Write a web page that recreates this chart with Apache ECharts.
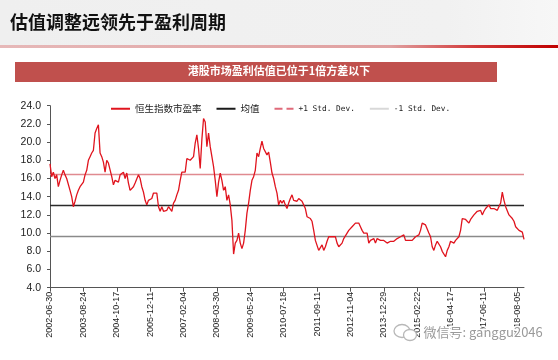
<!DOCTYPE html>
<html><head><meta charset="utf-8">
<script src="https://cdn.jsdelivr.net/npm/echarts@6/dist/echarts.min.js"></script>
<style>html,body{margin:0;padding:0;background:#fff;}#c{width:558px;height:360px;}</style>
</head><body><div id="c"></div>
<script>
// Weekly HSI P/E sampled every 3 weeks, starting 2002-06-30
const startDate = '2002-06-30';
const stepDays = 21;
const peValues = [
17.6,16.2,16.7,16.0,16.4,15.1,15.8,16.4,16.9,16.4,16.0,15.8,14.7,14.0,12.9,13.5,14.2,14.7,15.1,15.3,
15.6,16.4,16.9,18.0,18.4,18.8,19.1,21.0,21.5,21.9,18.8,18.4,17.8,16.7,18.0,17.7,17.8,16.2,15.3,15.8,
15.6,15.6,16.4,16.6,16.7,16.0,16.6,15.5,14.7,14.9,15.1,15.5,15.3,16.4,16.0,15.1,14.5,13.6,13.1,13.6,
13.6,13.8,14.4,14.2,14.4,12.9,12.4,12.9,12.4,12.2,12.5,12.9,12.7,12.4,13.3,13.6,14.2,14.7,15.8,16.7,
16.9,16.7,18.2,18.2,18.0,18.0,18.4,19.9,20.8,19.3,17.1,20.3,22.6,22.2,19.5,21.0,19.5,18.4,17.3,15.8,
14.0,15.6,16.6,15.8,14.7,15.1,13.6,14.2,13.1,11.4,7.7,8.9,9.2,10.0,8.9,8.3,8.9,10.3,12.2,13.3,
14.7,15.8,16.2,16.9,18.8,18.4,19.3,20.1,19.3,19.1,18.6,18.9,17.8,
16.6,16.0,15.1,14.4,13.1,13.6,13.3,13.6,13.1,12.7,13.3,13.8,14.2,13.6,13.5,13.5,13.8,13.6,13.5,13.1,
12.7,11.8,11.6,11.6,11.3,10.3,9.2,9.1,8.1,8.3,8.7,8.1,8.5,9.1,9.6,9.8,9.6,9.8,9.6,8.9,
8.5,8.7,8.9,9.4,9.6,10.0,10.3,10.1,10.7,10.9,11.1,11.3,11.1,10.7,10.3,10.0,9.8,10.0,8.9,9.2,
9.1,9.4,8.9,9.4,9.6,9.2,9.4,9.2,9.1,8.9,8.7,9.1,8.9,9.1,9.2,9.4,9.4,9.6,9.6,9.8,
9.2,9.1,9.2,9.1,9.2,9.4,9.6,9.6,9.8,10.3,11.1,11.1,10.9,10.7,10.0,9.6,8.5,8.1,8.7,9.1,
8.9,8.5,8.0,7.8,7.4,8.1,8.5,9.1,9.2,8.9,9.2,9.1,9.6,10.3,11.6,11.6,11.5,11.3,11.1,11.5,
11.6,12.0,12.2,12.4,12.2,12.5,12.0,12.4,12.7,12.9,13.1,12.7,12.9,12.7,12.9,12.5,12.4,13.3,14.5,13.6,
12.9,13.1,12.0,11.8,11.6,11.3,10.7,10.5,10.3,10.1,10.1,9.3
];
const meanPE = 13.05;
const plusStd = 16.5;
const minusStd = 9.6;
const seriesNames = ['恒生指数市盈率','均值','+1 Std. Dev.','-1 Std. Dev.'];

function fmt(d){
  const y=d.getUTCFullYear(), m=('0'+(d.getUTCMonth()+1)).slice(-2), dd=('0'+d.getUTCDate()).slice(-2);
  return y+'-'+m+'-'+dd;
}
const categories = [];
const t0 = Date.parse(startDate+'T00:00:00Z');
for (let i=0;i<peValues.length;i++){ categories.push(fmt(new Date(t0 + i*stepDays*86400000))); }

const chart = echarts.init(document.getElementById('c'), null, {renderer:'canvas'});
const cjk = '"Noto Sans CJK SC", "Liberation Sans", sans-serif';
const mono = '"DejaVu Sans Mono", monospace';
function refLine(name, value, legendColor, legendType, lineColor){
  return {
    name: name, type:'line', data: [], symbol:'none',
    lineStyle:{color:legendColor, type:legendType, width:1.5},
    itemStyle:{color:legendColor},
    markLine:{silent:true, symbol:'none', label:{show:false},
      lineStyle:{color:lineColor, type:'solid', width:1.3},
      data:[{yAxis:value}]}
  };
}
chart.setOption({
  animation:false,
  backgroundColor:'#ffffff',
  graphic:[
    {type:'rect', left:0, top:0, shape:{width:558, height:45},
      style:{fill:new echarts.graphic.LinearGradient(0,0,1,0,[{offset:0,color:'#efefef'},{offset:0.8,color:'#f1f1f1'},{offset:1,color:'#f7f7f7'}])}, z:-1},
    {type:'rect', left:0, top:45, shape:{width:558, height:3},
      style:{fill:new echarts.graphic.LinearGradient(0,0,1,0,[{offset:0,color:'#e6b8b8'},{offset:0.7,color:'#e0a0a0'},{offset:0.85,color:'#d23a3a'},{offset:1,color:'#c00000'}])}},
    {type:'text', left:10, top:13, style:{text:'估值调整远领先于盈利周期', font:'bold 18px '+cjk, fill:'#111'}},
    {type:'rect', left:15, top:62, shape:{width:482, height:20}, style:{fill:'#c0504d'}},
    {type:'text', left:'center', top:65, style:{text:'港股市场盈利估值已位于1倍方差以下', font:'bold 11px '+cjk, fill:'#ffffff'}},
    {type:'ellipse', z:100, shape:{cx:402, cy:331, rx:8, ry:6.5}, style:{fill:'#fff', stroke:'#b8b8b8', lineWidth:1.3}},
    {type:'ellipse', z:101, shape:{cx:410, cy:335, rx:6.5, ry:5.5}, style:{fill:'#fff', stroke:'#b8b8b8', lineWidth:1.3}},
    {type:'text', z:102, left:422, top:324, style:{text:'微信号: ganggu2046', font:'13px '+cjk, fill:'#9a9a9a', stroke:'#ffffff', lineWidth:3}}
  ],
  legend:{
    top:99, left:105, itemWidth:19, itemHeight:10, itemGap:14,
    itemStyle:{opacity:0},
    textStyle:{fontSize:9.5, color:'#222', fontFamily:cjk},
    data:[
      {name:seriesNames[0]},
      {name:seriesNames[1]},
      {name:seriesNames[2], textStyle:{fontFamily:mono, fontSize:7.8}},
      {name:seriesNames[3], textStyle:{fontFamily:mono, fontSize:7.8}}
    ]
  },
  grid:{left:50, right:34, top:105.7, bottom:72.3, containLabel:false},
  xAxis:{
    type:'category', data:categories, boundaryGap:false,
    axisLine:{lineStyle:{color:'#555', width:1}},
    axisTick:{interval:19, length:4, lineStyle:{color:'#555'}},
    axisLabel:{interval:19, rotate:90, fontSize:9, color:'#222', margin:4, fontFamily:'"Liberation Sans", Arial, sans-serif'},
    splitLine:{show:false}
  },
  yAxis:{
    type:'value', min:4, max:24, interval:2,
    axisLine:{show:true, lineStyle:{color:'#555', width:1}},
    axisTick:{show:true, length:3, lineStyle:{color:'#555'}},
    axisLabel:{fontSize:10.5, color:'#222', margin:9, fontFamily:'"Liberation Sans", Arial, sans-serif',
      formatter:function(v){return v.toFixed(1);}},
    splitLine:{show:false}
  },
  series:[
    {name:seriesNames[0], type:'line', data:peValues, symbol:'none', z:5,
      lineStyle:{color:'#e0141e', width:1.3}, itemStyle:{color:'#e0141e'}},
    refLine(seriesNames[1], meanPE, '#1a1a1a', 'solid', '#2a2a2a'),
    refLine(seriesNames[2], plusStd, '#e06a7a', 'dashed', '#e08a90'),
    refLine(seriesNames[3], minusStd, '#d8d8d8', 'solid', '#8a8a8a')
  ]
});
</script></body></html>
